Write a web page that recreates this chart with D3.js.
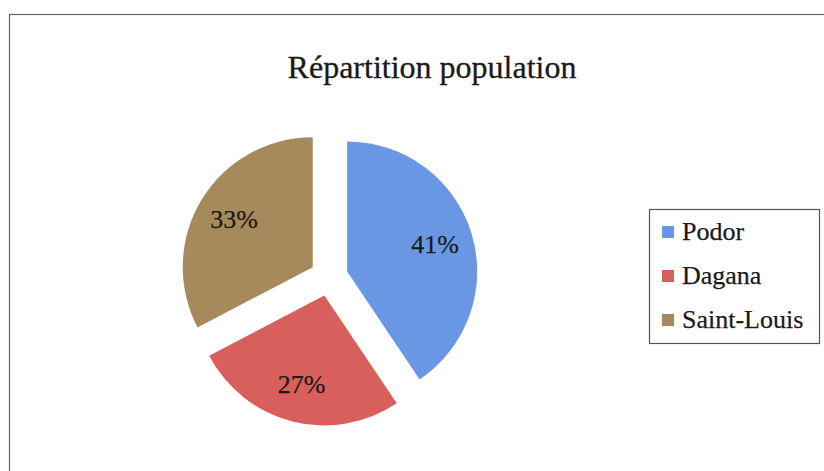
<!DOCTYPE html>
<html><head><meta charset="utf-8">
<script src="https://cdn.jsdelivr.net/npm/d3@7"></script>
<style>html,body{margin:0;padding:0;background:#fff;}svg{display:block;}</style>
</head><body>
<svg id="c" width="824" height="471"></svg>
<script>
const categories = ["Podor", "Dagana", "Saint-Louis"];
const values = [41, 27, 33];
const colors = ["#6a97e3", "#d95f5c", "#a68a5c"];
const title = "Répartition population";

const svg = d3.select("#c");
const serif = "'Liberation Serif', 'Times New Roman', serif";

// chart border
svg.append("rect").attr("x", 9.5).attr("y", 14.5).attr("width", 830).attr("height", 470)
  .attr("fill", "none").attr("stroke", "#666").attr("stroke-width", 1.2);

svg.append("text").attr("x", 432).attr("y", 78).attr("text-anchor", "middle")
  .attr("font-family", serif).attr("font-size", 32).attr("fill", "#1a1a1a")
  .attr("stroke", "#1a1a1a").attr("stroke-width", 0.3).text(title);

const cx = 329, cy = 277, R = 130, explode = 19, labelR = 92;
const pie = d3.pie().sort(null).value(d => d)(values);
const arc = d3.arc().innerRadius(0).outerRadius(R);
const g = svg.append("g").attr("transform", `translate(${cx},${cy})`);
const slices = g.selectAll("g.s").data(pie).join("g").attr("class", "s")
  .attr("transform", d => {
    const a = (d.startAngle + d.endAngle) / 2;
    return `translate(${explode * Math.sin(a)},${-explode * Math.cos(a)})`;
  });
slices.append("path").attr("d", arc).attr("fill", (d, i) => colors[i]);
const total = d3.sum(values);
slices.append("text")
  .attr("x", d => labelR * Math.sin((d.startAngle + d.endAngle) / 2))
  .attr("y", d => -labelR * Math.cos((d.startAngle + d.endAngle) / 2))
  .attr("dy", "0.33em")
  .attr("text-anchor", "middle")
  .attr("font-family", serif).attr("font-size", 26).attr("fill", "#1a1a1a")
  .attr("stroke", "#1a1a1a").attr("stroke-width", 0.25)
  .text(d => Math.round(d.value / total * 100) + "%");

// legend
const lg = svg.append("g");
lg.append("rect").attr("x", 649.5).attr("y", 209.5).attr("width", 170).attr("height", 134)
  .attr("fill", "#fff").attr("stroke", "#555").attr("stroke-width", 1.2);
const ly = d3.scalePoint().domain(categories).range([232, 320]);
const items = lg.selectAll("g.it").data(categories).join("g").attr("class", "it")
  .attr("transform", d => `translate(0,${ly(d)})`);
items.append("rect").attr("x", 662).attr("y", -6).attr("width", 12).attr("height", 12)
  .attr("fill", (d, i) => colors[i]);
items.append("text").attr("x", 682).attr("y", 8)
  .attr("font-family", serif).attr("font-size", 26).attr("fill", "#1a1a1a")
  .attr("stroke", "#1a1a1a").attr("stroke-width", 0.25).text(d => d);
</script>
</body></html>
